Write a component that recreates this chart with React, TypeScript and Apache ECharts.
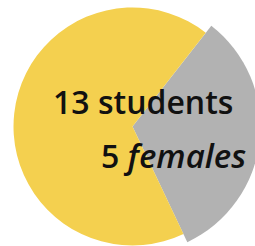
import React, { useEffect, useRef } from "react";
import * as echarts from "echarts";

const categories = ["females", "others"];
const shares = [32.4, 67.6];
const colors = ["#B2B2B2", "#F4D04F"];
const line1 = "13 students";
const line2Num = "5 ";
const line2Word = "females";

export default function App() {
  const ref = useRef<HTMLDivElement>(null);
  useEffect(() => {
    const chart = echarts.init(ref.current!, null, { renderer: "svg" });
    const data = categories.map((c, i) => ({ name: c, value: shares[i] }));
    chart.setOption({
      animation: false,
      series: [
        {
          type: "pie",
          center: [132.5, 126.5],
          radius: 128,
          startAngle: 52,
          clockwise: true,
          label: { show: false },
          labelLine: { show: false },
          silent: true,
          data: data.map((d, i) => ({
            ...d,
            itemStyle: { color: i === 0 ? colors[0] : "rgba(0,0,0,0)" },
          })),
        },
        {
          type: "pie",
          center: [132.5, 126.5],
          radius: 119,
          startAngle: 52,
          clockwise: true,
          label: { show: false },
          labelLine: { show: false },
          silent: true,
          data: data.map((d, i) => ({
            ...d,
            itemStyle: { color: i === 1 ? colors[1] : "rgba(0,0,0,0)" },
          })),
        },
      ],
      graphic: {
        elements: [
          {
            type: "text",
            left: 53,
            top: 85,
            z: 100,
            style: {
              text: line1,
              fill: "#111",
              font: "600 32px 'Open Sans'",
            },
          },
          {
            type: "text",
            left: 101,
            top: 139,
            z: 100,
            style: {
              text: "{a|" + line2Num + "}{b|" + line2Word + "}",
              rich: {
                a: { fill: "#111", fontFamily: "Open Sans", fontWeight: 600, fontSize: 32 },
                b: { fill: "#111", fontFamily: "Open Sans", fontWeight: 600, fontSize: 33, fontStyle: "italic" },
              },
            },
          },
        ],
      },
    });
    return () => chart.dispose();
  }, []);
  return (
    <div
      ref={ref}
      style={{ position: "absolute", left: 0, top: 0, width: 255, height: 246 }}
    />
  );
}
